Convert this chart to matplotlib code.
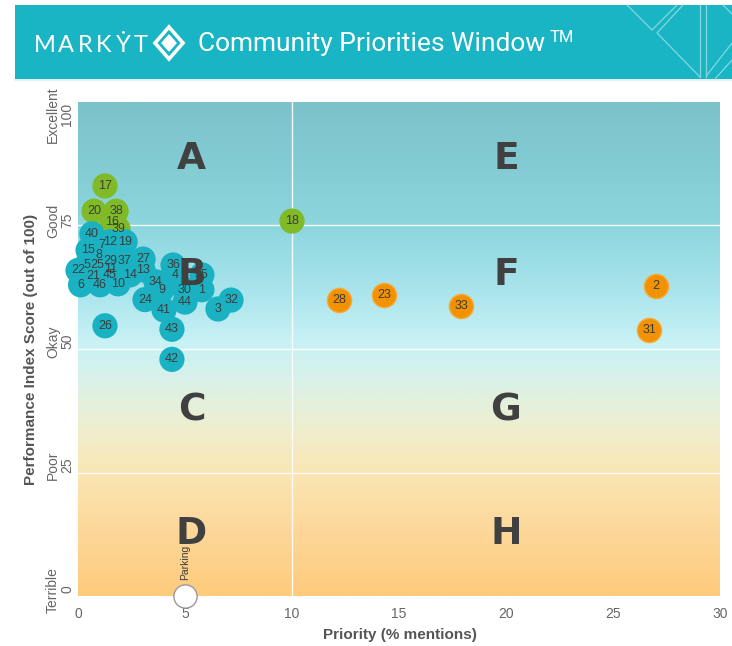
import numpy as np
import matplotlib
matplotlib.use("Agg")
import matplotlib.pyplot as plt
from matplotlib.colors import LinearSegmentedColormap
from matplotlib.patches import Rectangle, Polygon

# ---------------- data ----------------
green_ids = ['17', '20', '38', '16', '39', '18']
green_x = [1.26, 0.75, 1.78, 1.59, 1.87, 10.0]
green_y = [83.0, 77.9, 77.9, 75.7, 74.3, 75.9]

teal_ids = ['40', '12', '19', '15', '7', '8', '29', '37', '27', '22', '5', '25', '11',
            '13', '14', '21', '45', '6', '46', '10', '34', '9', '24', '36', '4', '35',
            '30', '1', '44', '32', '3', '41', '43', '42', '26']
teal_x = [0.65, 1.50, 2.20, 0.47, 1.12, 0.98, 1.50, 2.15, 3.04, 0.0, 0.40, 0.90, 1.54,
          3.04, 2.43, 0.70, 1.50, 0.12, 1.03, 1.87, 3.64, 3.93, 3.13, 4.44, 4.53, 5.79,
          5.00, 5.79, 5.00, 7.15, 6.54, 4.02, 4.39, 4.39, 1.26]
teal_y = [73.3, 71.7, 71.7, 70.0, 71.1, 69.0, 67.9, 67.9, 68.2, 65.9, 67.0, 67.0, 66.2,
          66.0, 65.0, 64.8, 65.0, 63.0, 63.0, 63.2, 63.6, 62.0, 60.0, 67.0, 65.0, 65.0,
          62.0, 62.0, 59.5, 59.9, 58.1, 57.9, 54.0, 47.9, 54.7]

orange_ids = ['28', '23', '33', '2', '31']
orange_x = [12.2, 14.3, 17.9, 27.0, 26.7]
orange_y = [59.9, 60.9, 58.7, 62.8, 53.8]

hollow_label = 'Parking'
hollow_x = [5.0]
hollow_y = [0.0]

quad_letters = ['A', 'B', 'C', 'D', 'E', 'F', 'G', 'H']
quad_x = [5.3, 5.3, 5.3, 5.3, 20.0, 20.0, 20.0, 20.0]
quad_y = [88.5, 65.0, 37.5, 12.5, 88.5, 65.0, 37.5, 12.5]

x_ticks = [0, 5, 10, 15, 20, 25, 30]
y_ticks = [0, 25, 50, 75, 100]
y_words = ['Terrible', 'Poor', 'Okay', 'Good', 'Excellent']

# ---------------- figure ----------------
W, H = 732, 646
fig = plt.figure(figsize=(W / 100, H / 100), dpi=100)
fig.patch.set_facecolor('white')

L, R, T, B = 78, 720, 102, 596
ax = fig.add_axes([L / W, (H - B) / H, (R - L) / W, (B - T) / H])
ax.set_xlim(0, 30)
ax.set_ylim(0, 100)

# gradient background
stops = [(0, '#FFCB7C'), (12, '#FDD697'), (25, '#FAE6B4'), (35, '#EDEFD2'),
         (45, '#D6F2EC'), (52, '#C6F1F5'), (62, '#A9E4EC'), (75, '#8DD6DE'),
         (88, '#83CBD3'), (100, '#7CC2CA')]
cmap = LinearSegmentedColormap.from_list('bg', [(v / 100, c) for v, c in stops])
grad = np.linspace(0, 1, 512).reshape(-1, 1)
ax.imshow(grad, extent=[0, 30, 0, 100], origin='lower', aspect='auto', cmap=cmap, zorder=0)

# quadrant lines
for yv in [25, 50, 75]:
    ax.axhline(yv, color='white', lw=1.0, alpha=0.9, zorder=1)
ax.axvline(10, color='white', lw=1.0, alpha=0.9, zorder=1)

for s in ax.spines.values():
    s.set_visible(False)
ax.tick_params(length=0)
ax.set_xticks(x_ticks)
ax.set_xticklabels([str(v) for v in x_ticks], color='#666666', fontsize=10,
                   family=['Liberation Sans Narrow', 'Liberation Sans'])
ax.tick_params(axis='x', pad=8)
ax.set_yticks([])

# y labels (numbers + words)
ylab_pos = [1.3, 26.5, 51.5, 76.0, 97.5]
for yv, pos, word in zip(y_ticks, ylab_pos, y_words):
    ax.text(-0.006, pos, str(yv), transform=ax.get_yaxis_transform(), rotation=90,
            ha='right', va='center', fontsize=10, color='#666666',
            family=['Liberation Sans Narrow', 'Liberation Sans'])
    ax.text(-0.028, pos, word, transform=ax.get_yaxis_transform(), rotation=90,
            ha='right', va='center', fontsize=10, color='#666666',
            family=['Liberation Sans Narrow', 'Liberation Sans'])

fig.text(31 / W, 1 - 349 / H, 'Performance Index Score (out of 100)', rotation=90,
         ha='center', va='center', fontsize=11, fontweight='bold', color='#555555',
         family='Liberation Sans')
fig.text(400 / W, 1 - 635 / H, 'Priority (% mentions)', ha='center', va='center',
         fontsize=11, fontweight='bold', color='#555555', family='Liberation Sans')

# bubbles
S = 330
ax.scatter(green_x, green_y, s=S, color='#80BA27', edgecolors='none', zorder=3, clip_on=False)
ax.scatter(teal_x, teal_y, s=S, color='#1AB2C2', edgecolors='none', zorder=4, clip_on=False)
ax.scatter(orange_x, orange_y, s=S * 0.92, color='#F39200', edgecolors='#F7AB3E',
           linewidths=1.0, zorder=4, clip_on=False)
ax.scatter(hollow_x, hollow_y, s=S * 0.85, facecolors='white', edgecolors='#999999',
           linewidths=1.0, zorder=4, clip_on=False)

lab_font = dict(fontsize=9, color='#3C3C3C', ha='center', va='center', zorder=6,
                family='Liberation Sans', clip_on=False)
for lid, x, y in zip(green_ids, green_x, green_y):
    ax.text(x, y, lid, **lab_font)
for lid, x, y in zip(teal_ids, teal_x, teal_y):
    ax.text(x, y, lid, **lab_font)
for lid, x, y in zip(orange_ids, orange_x, orange_y):
    ax.text(x, y, lid, **lab_font)
ax.text(hollow_x[0], hollow_y[0] + 3.2, hollow_label, rotation=90, ha='center', va='bottom',
        fontsize=7.5, color='#3C3C3C', family='Liberation Sans', zorder=5)

# quadrant letters
for letter, x, y in zip(quad_letters, quad_x, quad_y):
    ax.text(x, y, letter, ha='center', va='center', fontsize=27, fontweight='bold',
            color='#404040', family='DejaVu Sans', zorder=7)

# ---------------- header ----------------
hx = fig.add_axes([0, 0, 1, 1], zorder=10)
hx.set_xlim(0, W)
hx.set_ylim(H, 0)
hx.axis('off')
hx.patch.set_visible(False)
hx.add_patch(Rectangle((15, 5), W - 15, 74, color='#19B5C4', lw=0))
hx.plot([15, W], [80, 80], color='#D9EFF2', lw=1.2)

# decorative lines
line_kw = dict(color='#8FDCE3', lw=0.9, alpha=0.9)
segs = [[(627, 5), (652, 30), (677, 5)],
        [(683, 5), (657, 33), (700, 77)],
        [(700, 5), (700, 77)], [(706, 5), (706, 77)],
        [(707, 75), (732, 43)], [(715, 79), (732, 60)],
        [(723, 5), (732, 14)]]
for seg in segs:
    xs, ys = zip(*seg)
    hx.plot(xs, ys, **line_kw)

# MARKYT word
mk_letters = ['M', 'A', 'R', 'K', 'Ẏ', 'T']
mk_x = [45, 66, 85, 104, 123, 141]
for ch, x in zip(mk_letters, mk_x):
    hx.text(x, 45, ch, ha='center', va='center', fontsize=17, color='white',
            family=['Lato', 'DejaVu Sans'], fontweight='normal')

# diamond logo
cx, cy = 169, 43
hx.add_patch(Polygon([(cx, cy - 16), (cx + 14, cy), (cx, cy + 16), (cx - 14, cy)],
                     closed=True, fill=False, edgecolor='white', lw=2.6))
hx.add_patch(Polygon([(cx, cy - 8), (cx + 7, cy), (cx, cy + 8), (cx - 7, cy)],
                     closed=True, facecolor='white', edgecolor='white', lw=1))

hx.text(198, 44, 'Community Priorities Window', ha='left', va='center', fontsize=19,
        color='white', family=['Roboto', 'DejaVu Sans'])
hx.text(550, 38, 'TM', ha='left', va='center', fontsize=12,
        color='white', family=['Roboto', 'DejaVu Sans'])

fig.savefig('out.png', dpi=100)
